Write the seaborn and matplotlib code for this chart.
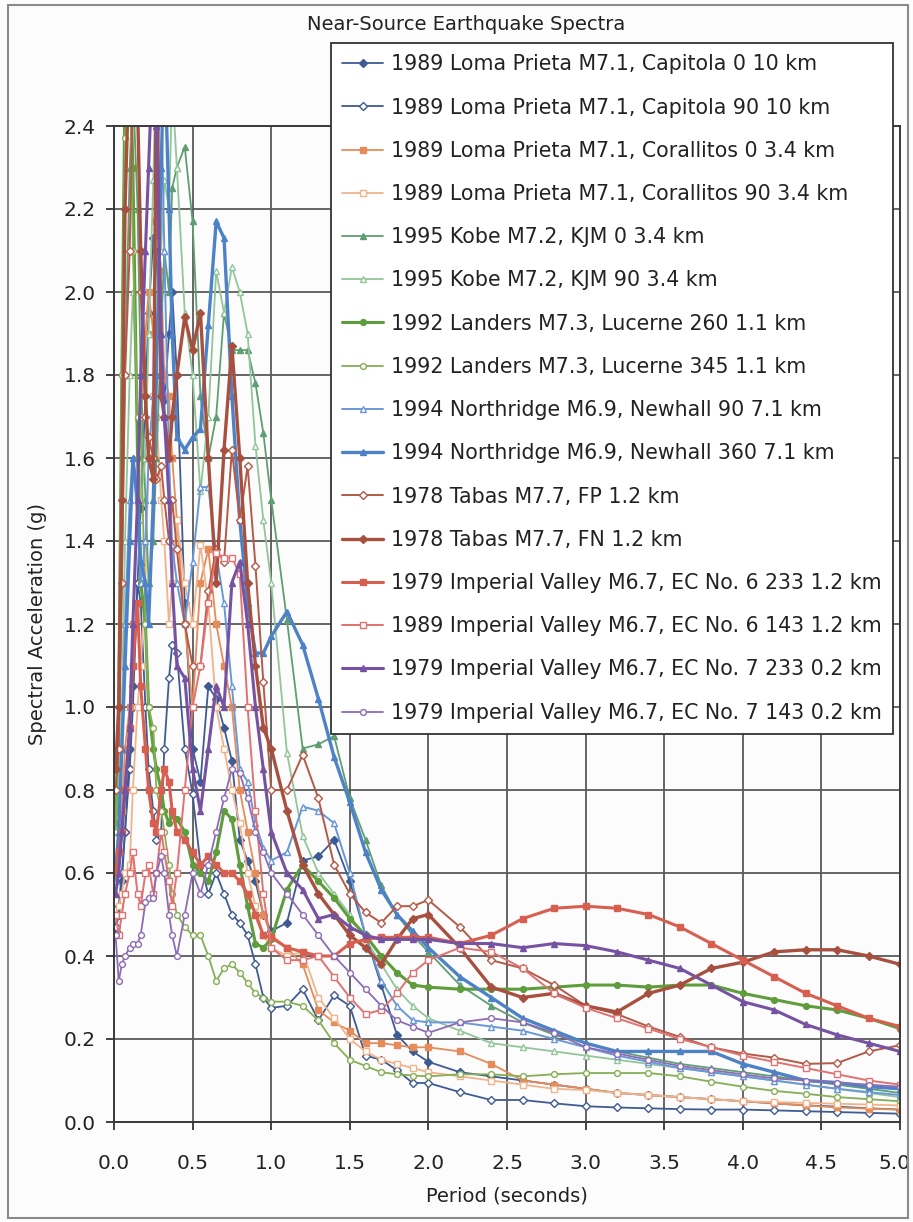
import matplotlib
matplotlib.use("Agg")
import matplotlib.pyplot as plt
import matplotlib.patches as mpatches
import matplotlib.transforms as mtransforms
import numpy as np
import seaborn as sns

# ---------------- data ----------------
period = [0.01, 0.03, 0.05, 0.07, 0.10, 0.12, 0.15, 0.17, 0.20, 0.22, 0.25, 0.27,
          0.30, 0.32, 0.35, 0.37, 0.40, 0.45, 0.50, 0.55, 0.60, 0.65, 0.70, 0.75,
          0.80, 0.85, 0.90, 0.95, 1.0, 1.1, 1.2, 1.3, 1.4, 1.5, 1.6, 1.7, 1.8, 1.9,
          2.0, 2.2, 2.4, 2.6, 2.8, 3.0, 3.2, 3.4, 3.6, 3.8, 4.0, 4.2, 4.4, 4.6, 4.8, 5.0]

loma_capitola_0 = [0.46, 0.50, 0.58, 0.70, 0.90, 1.05, 1.30, 1.48, 1.75, 1.95, 2.13, 2.10,
                   1.80, 1.74, 1.90, 2.00, 1.80, 1.25, 0.90, 0.82, 1.05, 1.02, 0.95, 0.87,
                   0.68, 0.63, 0.58, 0.50, 0.46, 0.48, 0.63, 0.64, 0.68, 0.58, 0.45, 0.33,
                   0.21, 0.17, 0.145, 0.12, 0.11, 0.10, 0.09, 0.08, 0.07, 0.065, 0.06, 0.055,
                   0.05, 0.045, 0.04, 0.037, 0.033, 0.03]
loma_capitola_90 = [0.47, 0.52, 0.60, 0.70, 0.85, 1.00, 1.30, 1.25, 1.00, 0.85, 0.75, 0.68,
                    0.70, 0.90, 1.07, 1.15, 1.13, 0.90, 0.79, 0.62, 0.55, 0.60, 0.55, 0.50,
                    0.48, 0.45, 0.38, 0.30, 0.275, 0.28, 0.32, 0.245, 0.305, 0.28, 0.16, 0.15,
                    0.125, 0.094, 0.094, 0.072, 0.053, 0.053, 0.045, 0.038, 0.035, 0.033, 0.031, 0.03,
                    0.03, 0.028, 0.026, 0.024, 0.022, 0.02]
loma_corallitos_0 = [0.60, 0.65, 0.75, 0.90, 1.00, 1.20, 1.50, 1.70, 1.90, 2.00, 1.90, 2.17,
                     2.05, 1.80, 1.75, 1.60, 1.45, 1.20, 1.00, 1.30, 1.38, 1.20, 1.10, 1.00,
                     0.80, 0.70, 0.60, 0.50, 0.45, 0.42, 0.38, 0.27, 0.24, 0.22, 0.19, 0.19,
                     0.185, 0.18, 0.18, 0.17, 0.14, 0.10, 0.09, 0.08, 0.07, 0.065, 0.06, 0.055,
                     0.05, 0.045, 0.04, 0.035, 0.032, 0.03]
loma_corallitos_90 = [0.50, 0.52, 0.55, 0.60, 0.62, 0.80, 1.00, 1.10, 1.30, 1.60, 1.75, 1.70,
                      1.50, 1.40, 1.20, 1.30, 1.45, 1.30, 1.20, 1.39, 1.25, 1.00, 0.90, 0.80,
                      0.72, 0.60, 0.52, 0.45, 0.42, 0.40, 0.41, 0.30, 0.25, 0.20, 0.17, 0.15,
                      0.14, 0.13, 0.12, 0.11, 0.10, 0.09, 0.08, 0.077, 0.07, 0.065, 0.06, 0.055,
                      0.05, 0.048, 0.046, 0.044, 0.042, 0.04]
kobe_0 = [0.75, 0.90, 1.30, 1.80, 2.30, 2.50, 2.20, 1.80, 1.50, 1.30, 1.40, 1.60,
          1.90, 2.10, 2.00, 2.25, 2.30, 2.35, 2.17, 1.75, 1.60, 1.70, 1.95, 1.86,
          1.86, 1.86, 1.78, 1.66, 1.50, 1.21, 0.90, 0.91, 0.93, 0.78, 0.68, 0.57,
          0.50, 0.45, 0.41, 0.33, 0.28, 0.24, 0.21, 0.19, 0.17, 0.155, 0.14, 0.13,
          0.12, 0.11, 0.10, 0.09, 0.08, 0.07]
kobe_90 = [0.70, 0.80, 1.00, 1.40, 1.80, 2.00, 1.70, 1.50, 1.60, 1.90, 2.27, 2.60,
           2.10, 2.27, 2.20, 2.50, 2.30, 1.95, 1.80, 1.52, 1.70, 2.05, 1.95, 2.06,
           2.00, 1.90, 1.63, 1.45, 1.30, 0.89, 0.69, 0.60, 0.55, 0.50, 0.44, 0.38,
           0.32, 0.28, 0.25, 0.22, 0.19, 0.18, 0.17, 0.16, 0.15, 0.14, 0.13, 0.12,
           0.11, 0.10, 0.09, 0.08, 0.07, 0.06]
landers_260 = [0.72, 1.00, 1.80, 2.50, 2.60, 2.30, 1.60, 1.30, 1.20, 1.00, 0.90, 0.85,
               0.80, 0.75, 0.72, 0.74, 0.73, 0.70, 0.62, 0.60, 0.58, 0.65, 0.75, 0.73,
               0.62, 0.52, 0.43, 0.42, 0.44, 0.56, 0.62, 0.58, 0.54, 0.49, 0.45, 0.40,
               0.36, 0.33, 0.325, 0.32, 0.32, 0.32, 0.325, 0.33, 0.33, 0.325, 0.33, 0.33,
               0.31, 0.295, 0.28, 0.27, 0.25, 0.225]
landers_345 = [0.70, 1.00, 1.80, 2.37, 2.60, 2.10, 1.70, 1.70, 1.20, 1.00, 0.95, 0.80,
               0.75, 0.70, 0.62, 0.55, 0.50, 0.47, 0.45, 0.45, 0.40, 0.34, 0.37, 0.38,
               0.36, 0.335, 0.31, 0.30, 0.29, 0.29, 0.28, 0.245, 0.19, 0.15, 0.135, 0.12,
               0.115, 0.112, 0.11, 0.115, 0.115, 0.11, 0.115, 0.118, 0.118, 0.118, 0.11, 0.097,
               0.085, 0.075, 0.068, 0.06, 0.055, 0.05]
northridge_90 = [0.58, 0.70, 0.90, 1.20, 1.50, 1.60, 1.45, 1.30, 1.40, 1.60, 1.75, 2.27,
                 2.50, 2.10, 1.60, 1.39, 1.30, 1.20, 1.35, 1.53, 1.53, 1.37, 1.25, 1.05,
                 0.85, 0.82, 0.72, 0.66, 0.63, 0.65, 0.76, 0.75, 0.72, 0.60, 0.45, 0.34,
                 0.28, 0.245, 0.24, 0.24, 0.23, 0.22, 0.20, 0.18, 0.16, 0.145, 0.13, 0.12,
                 0.11, 0.10, 0.09, 0.08, 0.072, 0.065]
northridge_360 = [0.60, 0.70, 0.90, 1.10, 1.40, 1.60, 1.50, 1.35, 1.30, 1.20, 1.50, 1.80,
                  2.30, 2.60, 2.20, 1.90, 1.65, 1.62, 1.65, 1.67, 1.92, 2.17, 2.13, 1.75,
                  1.45, 1.25, 1.13, 1.13, 1.17, 1.23, 1.15, 1.02, 0.88, 0.77, 0.65, 0.56,
                  0.50, 0.46, 0.42, 0.35, 0.30, 0.25, 0.22, 0.19, 0.17, 0.17, 0.17, 0.17,
                  0.14, 0.12, 0.10, 0.095, 0.085, 0.08]
tabas_fp = [0.80, 0.90, 1.30, 1.80, 2.10, 2.50, 2.45, 2.00, 1.70, 1.65, 1.60, 1.55,
            1.58, 1.50, 1.40, 1.50, 1.38, 1.20, 1.10, 1.10, 1.28, 1.38, 1.35, 1.62,
            1.45, 1.58, 1.34, 1.06, 0.80, 0.80, 0.885, 0.78, 0.62, 0.55, 0.505, 0.48,
            0.52, 0.52, 0.535, 0.47, 0.39, 0.37, 0.33, 0.28, 0.26, 0.23, 0.205, 0.18,
            0.165, 0.155, 0.14, 0.142, 0.17, 0.185]
tabas_fn = [0.85, 1.00, 1.50, 2.20, 2.60, 2.60, 2.45, 2.10, 1.75, 1.60, 1.55, 2.60,
            1.75, 1.70, 1.60, 1.70, 1.80, 1.94, 1.86, 1.95, 1.60, 1.30, 1.62, 1.87,
            1.60, 1.30, 1.10, 0.95, 0.90, 0.75, 0.62, 0.55, 0.50, 0.45, 0.42, 0.38,
            0.44, 0.49, 0.50, 0.42, 0.325, 0.30, 0.31, 0.28, 0.265, 0.31, 0.33, 0.37,
            0.385, 0.41, 0.415, 0.415, 0.40, 0.38]
imperial_ec6_233 = [0.60, 0.65, 0.70, 0.80, 0.95, 1.10, 1.25, 1.05, 0.90, 0.80, 0.72, 0.70,
                    0.80, 0.85, 0.82, 0.75, 0.70, 0.68, 0.65, 0.62, 0.64, 0.62, 0.60, 0.60,
                    0.58, 0.55, 0.50, 0.45, 0.445, 0.42, 0.41, 0.40, 0.40, 0.43, 0.44, 0.445,
                    0.445, 0.445, 0.445, 0.43, 0.45, 0.49, 0.515, 0.52, 0.515, 0.50, 0.47, 0.43,
                    0.39, 0.35, 0.31, 0.28, 0.25, 0.23]
imperial_ec6_143 = [0.50, 0.45, 0.50, 0.55, 0.60, 0.65, 0.55, 0.52, 0.60, 0.62, 0.55, 0.60,
                    0.70, 0.65, 0.58, 0.52, 0.60, 0.80, 1.00, 1.10, 1.25, 1.37, 1.36, 1.36,
                    1.32, 1.00, 0.75, 0.55, 0.42, 0.39, 0.39, 0.40, 0.35, 0.30, 0.26, 0.27,
                    0.31, 0.36, 0.39, 0.42, 0.41, 0.37, 0.31, 0.275, 0.25, 0.225, 0.20, 0.18,
                    0.16, 0.145, 0.13, 0.115, 0.10, 0.09]
imperial_ec7_233 = [0.55, 0.60, 0.70, 0.80, 0.95, 1.20, 1.50, 1.80, 2.10, 2.30, 2.60, 2.40,
                    1.90, 1.70, 1.50, 1.30, 1.10, 1.07, 0.85, 0.75, 0.90, 1.05, 1.00, 1.30,
                    1.35, 1.20, 1.00, 0.85, 0.70, 0.60, 0.56, 0.49, 0.50, 0.47, 0.45, 0.44,
                    0.44, 0.44, 0.44, 0.43, 0.43, 0.42, 0.43, 0.425, 0.41, 0.39, 0.37, 0.33,
                    0.29, 0.27, 0.235, 0.21, 0.19, 0.17]
imperial_ec7_143 = [0.45, 0.34, 0.38, 0.40, 0.42, 0.43, 0.43, 0.45, 0.53, 0.54, 0.54, 0.60,
                    0.64, 0.60, 0.50, 0.45, 0.40, 0.50, 0.60, 0.55, 0.62, 0.70, 0.78, 0.85,
                    0.84, 0.78, 0.70, 0.65, 0.60, 0.55, 0.50, 0.45, 0.40, 0.36, 0.32, 0.28,
                    0.245, 0.23, 0.215, 0.24, 0.25, 0.24, 0.215, 0.18, 0.165, 0.15, 0.135, 0.125,
                    0.115, 0.105, 0.10, 0.095, 0.09, 0.085]

series_labels = [
    "1989 Loma Prieta M7.1, Capitola 0 10 km",
    "1989 Loma Prieta M7.1, Capitola 90 10 km",
    "1989 Loma Prieta M7.1, Corallitos 0 3.4 km",
    "1989 Loma Prieta M7.1, Corallitos 90 3.4 km",
    "1995 Kobe M7.2, KJM 0 3.4 km",
    "1995 Kobe M7.2, KJM 90 3.4 km",
    "1992 Landers M7.3, Lucerne 260 1.1 km",
    "1992 Landers M7.3, Lucerne 345 1.1 km",
    "1994 Northridge M6.9, Newhall 90 7.1 km",
    "1994 Northridge M6.9, Newhall 360 7.1 km",
    "1978 Tabas M7.7, FP 1.2 km",
    "1978 Tabas M7.7, FN 1.2 km",
    "1979 Imperial Valley M6.7, EC No. 6 233 1.2 km",
    "1989 Imperial Valley M6.7, EC No. 6 143 1.2 km",
    "1979 Imperial Valley M6.7, EC No. 7 233 0.2 km",
    "1979 Imperial Valley M6.7, EC No. 7 143 0.2 km",
]
series_values = [loma_capitola_0, loma_capitola_90, loma_corallitos_0, loma_corallitos_90,
                 kobe_0, kobe_90, landers_260, landers_345, northridge_90, northridge_360,
                 tabas_fp, tabas_fn, imperial_ec6_233, imperial_ec6_143,
                 imperial_ec7_233, imperial_ec7_143]

x_ticks = [0.0, 0.5, 1.0, 1.5, 2.0, 2.5, 3.0, 3.5, 4.0, 4.5, 5.0]
y_ticks = [0.0, 0.2, 0.4, 0.6, 0.8, 1.0, 1.2, 1.4, 1.6, 1.8, 2.0, 2.2, 2.4]

# ---------------- styles ----------------
# (color, marker, filled, linewidth)
styles = [
    ("#3f5b94", "D", True, 1.3),
    ("#3f5b94", "D", False, 1.3),
    ("#e58c5a", "s", True, 1.3),
    ("#efb48c", "s", False, 1.3),
    ("#5f9e72", "^", True, 1.3),
    ("#93c59b", "^", False, 1.3),
    ("#5e9c3c", "o", True, 2.2),
    ("#86ae55", "o", False, 1.3),
    ("#6a98d6", "^", False, 1.4),
    ("#4e82c6", "^", True, 2.4),
    ("#b45a48", "D", False, 1.4),
    ("#a8503f", "D", True, 2.4),
    ("#d75f4f", "s", True, 2.2),
    ("#e07272", "s", False, 1.4),
    ("#7652a2", "^", True, 2.2),
    ("#8c6cb4", "o", False, 1.3),
]

sns.set_style("ticks")
plt.rcParams["font.family"] = ["DejaVu Sans"]

W, H = 913, 1222
fig = plt.figure(figsize=(W / 100, H / 100), dpi=100)
fig.patch.set_facecolor("#fcfcfc")

ax_l, ax_r, ax_t, ax_b = 114, 900, 126, 1122
ax = fig.add_axes([ax_l / W, 1 - ax_b / H, (ax_r - ax_l) / W, (ax_b - ax_t) / H])
ax.set_facecolor("#fcfcfc")

handles = []
for vals, lab, (col, mk, filled, lw) in zip(series_values, series_labels, styles):
    assert len(vals) == len(period)
    sns.lineplot(x=period, y=vals, ax=ax, color=col, linewidth=lw,
                 marker=mk, markersize=4.2 if mk != "D" else 3.6,
                 markerfacecolor=col if filled else "white",
                 markeredgecolor=col, markeredgewidth=1.0,
                 estimator=None, sort=False, legend=False)
    line = ax.lines[-1]
    line.set_label(lab)
    handles.append(line)

ax.set_xlim(0, 5.0)
ax.set_ylim(0, 2.4)
ax.set_xticks(x_ticks)
ax.set_yticks(y_ticks)
ax.set_xticklabels([f"{v:.1f}" for v in x_ticks])
ax.set_yticklabels([f"{v:.1f}" for v in y_ticks])
ax.tick_params(axis="both", labelsize=14.5, colors="#222222", length=6, width=1.2,
               direction="out")
ax.tick_params(axis="x", pad=17)
ax.tick_params(axis="y", pad=7)
ax.grid(True, color="#5a5a5a", linewidth=1.3)
ax.set_axisbelow(True)
for sp in ax.spines.values():
    sp.set_visible(True)
    sp.set_color("#3a3a3a")
    sp.set_linewidth(1.4)

# keep the last x tick label inside the picture
last_lab = ax.get_xticklabels()[-1]
last_lab.set_transform(last_lab.get_transform() +
                       mtransforms.ScaledTranslation(-6 / 100, 0, fig.dpi_scale_trans))

ax.set_xlabel("Period (seconds)", fontsize=14, color="#222222", labelpad=10)
ax.set_ylabel("Spectral Acceleration (g)", fontsize=14, color="#222222", labelpad=12)

fig.text(466 / W, 1 - 24 / H, "Near-Source Earthquake Spectra", ha="center", va="center",
         fontsize=14, color="#222222")

leg = fig.legend(handles=handles, labels=series_labels, loc="upper left",
                 bbox_to_anchor=(331 / W, 1 - 43 / H), bbox_transform=fig.transFigure,
                 fontsize=14.8, frameon=True, fancybox=False, framealpha=1.0,
                 edgecolor="#333333", facecolor="white", labelspacing=1.13,
                 handlelength=2.0, handletextpad=0.35, borderpad=0.55,
                 borderaxespad=0.0)
leg.get_frame().set_linewidth(1.3)
for t in leg.get_texts():
    t.set_color("#222222")

# outer frame of the chart area
fig.patches.append(mpatches.Rectangle((8 / W, 1 - 1218 / H), (908 - 8) / W, (1218 - 5) / H,
                                      transform=fig.transFigure, fill=False,
                                      edgecolor="#8a8a8a", linewidth=1.5))

fig.savefig("out.png", dpi=100, facecolor=fig.get_facecolor())
